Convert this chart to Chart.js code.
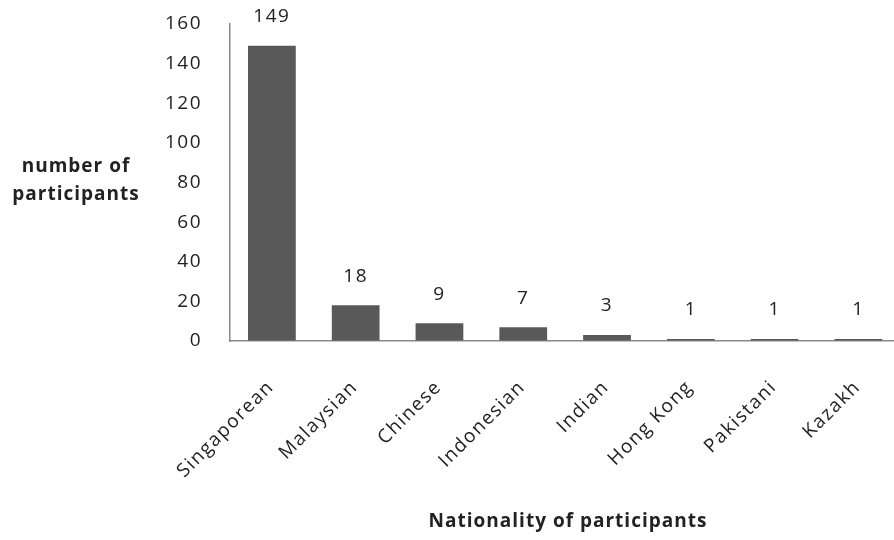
<!DOCTYPE html>
<html>
<head>
<meta charset="utf-8">
<script src="https://cdn.jsdelivr.net/npm/chart.js@4/dist/chart.umd.min.js"></script>
<style>
  html, body { margin: 0; padding: 0; background: #ffffff; overflow: hidden; }
  #wrap { width: 894px; height: 540px; overflow: hidden; position: relative; }
  #box { position: absolute; left: 0; top: 0; width: 910px; height: 540px; }
</style>
</head>
<body>
<div id="wrap"><div id="box"><canvas id="chart" width="910" height="540"></canvas></div></div>
<script>
// Survey participants by nationality
const categories = ["Singaporean", "Malaysian", "Chinese", "Indonesian", "Indian", "Hong Kong", "Pakistani", "Kazakh"];
const participants = [149, 18, 9, 7, 3, 1, 1, 1];
const yTicks = [0, 20, 40, 60, 80, 100, 120, 140, 160];

const FONT = "'Open Sans'";
const TEXT = "#222222";
const AXIS = "#8a8a8a";
const BAR = "#595959";
const SPACING = "1.5px";

// slightly widened lettering for the tick labels
const spacing = {
  id: "spacing",
  beforeInit(chart) { chart.ctx.letterSpacing = SPACING; },
  beforeLayout(chart) { chart.ctx.letterSpacing = SPACING; },
  beforeDraw(chart) { chart.ctx.letterSpacing = SPACING; }
};

// value labels above bars, plus the two axis titles
const annotate = {
  id: "annotate",
  afterDatasetsDraw(chart) {
    const ctx = chart.ctx;
    const meta = chart.getDatasetMeta(0);
    ctx.save();
    ctx.letterSpacing = SPACING;
    ctx.fillStyle = TEXT;
    ctx.font = "19px " + FONT;
    ctx.textAlign = "center";
    ctx.textBaseline = "middle";
    meta.data.forEach((bar, i) => {
      ctx.fillText(String(participants[i]), bar.x, bar.y - 29);
    });
    ctx.letterSpacing = "1px";
    ctx.font = "bold 19px " + FONT;
    ctx.fillText("number of", 76, 167);
    ctx.fillText("participants", 76, 195);
    ctx.fillText("Nationality of participants", 568, 522);
    ctx.restore();
  }
};

new Chart(document.getElementById("chart"), {
  type: "bar",
  data: {
    labels: categories,
    datasets: [{
      data: participants,
      backgroundColor: BAR,
      borderWidth: 0,
      barPercentage: 0.57,
      categoryPercentage: 1.0
    }]
  },
  options: {
    responsive: false,
    animation: false,
    layout: { padding: { top: 24, right: 8, left: 0, bottom: 0 } },
    plugins: { legend: { display: false }, tooltip: { enabled: false } },
    scales: {
      y: {
        min: 0,
        max: 160,
        afterFit(scale) { scale.width = 230; },
        afterBuildTicks(scale) { scale.ticks = yTicks.map(v => ({ value: v })); },
        grid: {
          display: true,
          drawOnChartArea: false,
          drawTicks: true,
          tickLength: 24,
          tickColor: "rgba(0,0,0,0)"
        },
        border: { display: true, color: AXIS, width: 1.5 },
        ticks: {
          padding: 4,
          color: TEXT,
          font: { family: FONT, size: 19 }
        }
      },
      x: {
        afterFit(scale) { scale.height = 540 - 341; },
        grid: { display: false, drawTicks: false },
        border: { display: true, color: AXIS, width: 1.5 },
        ticks: {
          minRotation: 45,
          maxRotation: 45,
          autoSkip: false,
          padding: 35,
          labelOffset: -1,
          color: TEXT,
          font: { family: FONT, size: 19 }
        }
      }
    }
  },
  plugins: [spacing, annotate]
});
</script>
</body>
</html>
